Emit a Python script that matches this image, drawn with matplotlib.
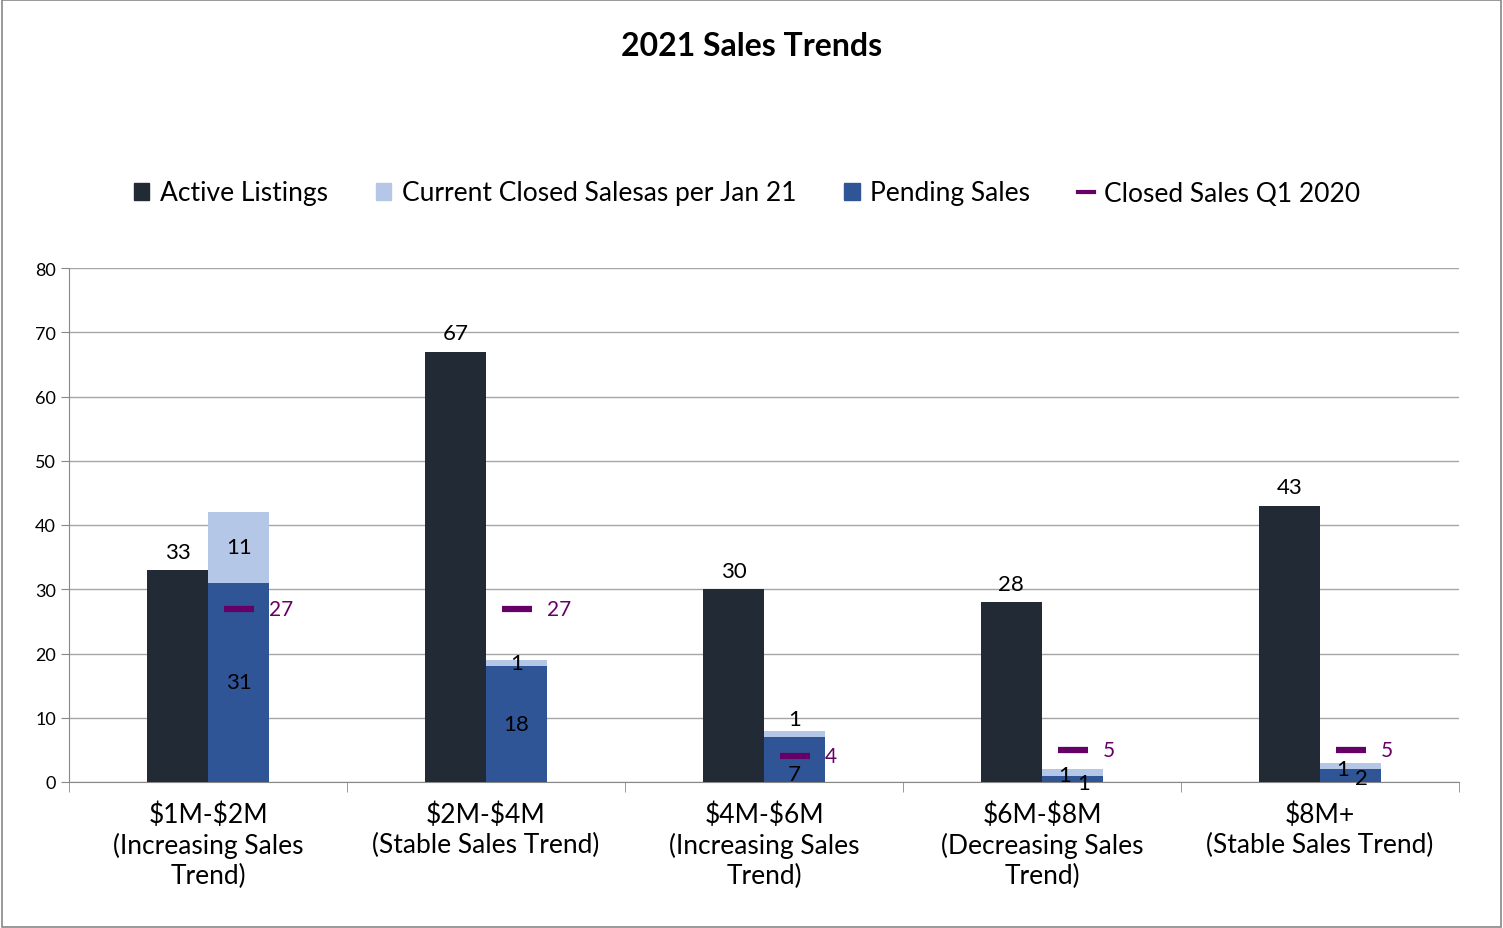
import matplotlib
matplotlib.use("Agg")
import matplotlib.pyplot as plt
from matplotlib.patches import Rectangle
from matplotlib.lines import Line2D

plt.rcParams['font.family'] = ['Lato', 'DejaVu Sans']
plt.rcParams['text.parse_math'] = False

categories = ["$1M-$2M\n(Increasing Sales\nTrend)", "$2M-$4M\n(Stable Sales Trend)",
              "$4M-$6M\n(Increasing Sales\nTrend)", "$6M-$8M\n(Decreasing Sales\nTrend)",
              "$8M+\n(Stable Sales Trend)"]
active = [33, 67, 30, 28, 43]
current_closed = [11, 1, 1, 1, 1]
pending = [31, 18, 7, 1, 2]
closed_q1_2020 = [27, 27, 4, 5, 5]

c_active = '#222a35'
c_closed = '#b4c7e7'
c_pending = '#2f5597'
c_q1 = '#660066'

fig = plt.figure(figsize=(15.03, 9.29), dpi=100)
fig.patches.append(Rectangle((0.001, 0.001), 0.998, 0.998, transform=fig.transFigure,
                             fill=False, edgecolor='#888888', lw=1.2))
ax = fig.add_axes([69/1503, 1-783/929, 1390/1503, 514/929])
x = list(range(len(categories)))
w = 0.22
ax.bar([i - w/2 for i in x], active, width=w, align='center', color=c_active, zorder=3)
ax.bar([i + w/2 for i in x], pending, width=w, align='center', color=c_pending, zorder=3)
ax.bar([i + w/2 for i in x], current_closed, width=w, align='center', bottom=pending, color=c_closed, zorder=3)
ax.plot([i + w/2 for i in x], closed_q1_2020, linestyle='none', marker='_',
        markersize=22, markeredgewidth=4.5, color=c_q1, zorder=4)

fs = 16
# label placement styles (x offset, y offset) for the small stacked segments
pend_off = [(0, 0), (0, 0), (0, -2.3), (0.04, -0.7), (0.04, -0.4)]
clos_off = [(0, 0), (0, 0), (0, 2.3), (-0.03, -0.4), (-0.03, -0.4)]
for i in x:
    ax.text(i - w/2, active[i] + 1.3, str(active[i]), ha='center', va='bottom', fontsize=fs)
    if pending[i] >= 10:
        ax.text(i + w/2, pending[i]/2, str(pending[i]), ha='center', va='center', fontsize=fs)
    else:
        dx, dy = pend_off[i]
        ax.text(i + w/2 + dx, pending[i]/2 + dy, str(pending[i]), ha='center', va='center', fontsize=fs)
    dx, dy = clos_off[i]
    ax.text(i + w/2 + dx, pending[i] + current_closed[i]/2 + dy, str(current_closed[i]),
            ha='center', va='center', fontsize=fs)
    ax.text(i + w/2 + 0.11, closed_q1_2020[i], str(closed_q1_2020[i]), ha='left',
            va='center', fontsize=15, color=c_q1)

ax.set_xlim(-0.5, len(categories) - 0.5)
ax.set_ylim(0, 80)
ax.set_yticks(range(0, 81, 10))
ax.yaxis.grid(True, color='#a6a6a6', lw=1, zorder=0)
ax.set_xticks(x)
ax.set_xticklabels(categories, fontsize=19, linespacing=1.25)
ax.tick_params(axis='x', length=0, pad=14)
ax.set_xticks([i - 0.5 for i in range(len(categories) + 1)], minor=True)
ax.tick_params(axis='x', which='minor', length=7, color='#888888')
ax.tick_params(axis='y', labelsize=13, length=6, color='#888888')
for s in ['top', 'right']:
    ax.spines[s].set_visible(False)
for s in ['left', 'bottom']:
    ax.spines[s].set_color('#888888')

fig.text(0.5, 1-47/929, "2021 Sales Trends", ha='center', va='center', fontsize=23, fontweight='bold')

handles = [Rectangle((0, 0), 1, 1, color=c_active), Rectangle((0, 0), 1, 1, color=c_closed),
           Rectangle((0, 0), 1, 1, color=c_pending),
           Line2D([], [], color=c_q1, lw=3)]
labels = ["Active Listings", "Current Closed Salesas per Jan 21", "Pending Sales", "Closed Sales Q1 2020"]
fig.legend(handles, labels, loc='center', bbox_to_anchor=(0.497, 1-194/929), ncol=4,
           frameon=False, fontsize=19, handlelength=0.6, handleheight=0.6,
           handletextpad=0.4, columnspacing=1.8)

fig.savefig("out.png", dpi=100)
